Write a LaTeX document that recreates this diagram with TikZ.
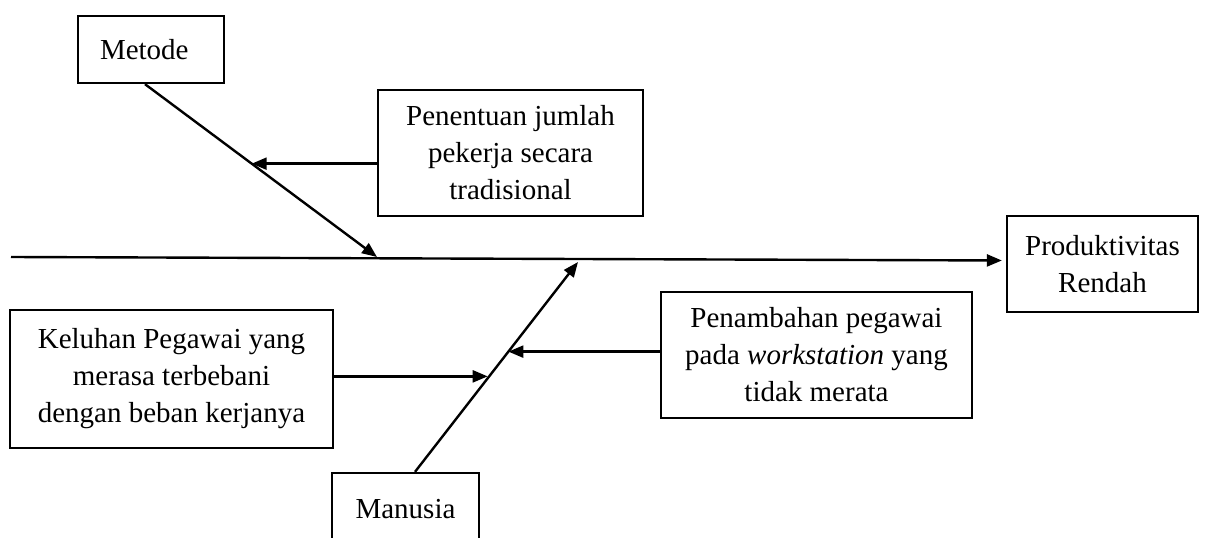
\documentclass[tikz,border=0pt]{standalone}
\usepackage{fontspec}
\setmainfont{Liberation Serif}
\usetikzlibrary{arrows.meta,calc}
\begin{document}
\begin{tikzpicture}[x=1pt,y=-1pt,
  box/.style={draw, line width=2.3pt, inner sep=0pt, align=center, font=\fontsize{29}{37}\selectfont},
  conn/.style={line width=2.4pt, -{Triangle[length=15pt,width=12pt]}},
  plain/.style={line width=2.4pt}]
\useasboundingbox (0,0) rectangle (1210,538);
% nodes
\node[box, minimum width=146, minimum height=67, text width=102, inner xsep=22, align=left] (metode) at (151,49.5) {Metode};
\node[box, minimum width=265, minimum height=126] (penentuan) at (510.5,153) {Penentuan jumlah\\pekerja secara\\tradisional};
\node[box, minimum width=191, minimum height=96] (prod) at (1102.5,264) {Produktivitas\\Rendah};
\node[box, minimum width=311, minimum height=126] (penambahan) at (816.5,355) {Penambahan pegawai\\pada \textit{workstation} yang\\tidak merata};
\node[box, minimum width=323, minimum height=138] (keluhan) at (171.5,379) {Keluhan Pegawai yang\\merasa terbebani\\dengan beban kerjanya};
\node[box, minimum width=147, minimum height=72] (manusia) at (405.5,509) {Manusia};
% coordinates on the bones
\coordinate (s0) at (11,257);
\coordinate (mstart) at ([xshift=-6pt]metode.south);
\coordinate (mend) at (377,257);
\coordinate (a1) at ($(mstart)!0.46!(mend)$);
\coordinate (hstart) at ([xshift=9.5pt]manusia.north);
\coordinate (hend) at (578,262);
\coordinate (a2) at ($(hstart)!0.573!(hend)$);
\coordinate (a3) at ($(hstart)!0.455!(hend)$);
% connectors
\draw[conn, shorten >=4pt] (s0) -- ([yshift=3.5pt]prod.west);
\draw[conn] (mstart) -- (mend);
\draw[conn] (penentuan.west |- a1) -- (a1);
\draw[conn] (hstart) -- (hend);
\draw[conn] (penambahan.west |- a2) -- (a2);
\draw[conn, shorten >=1.5pt] (keluhan.east |- a3) -- (a3);
\end{tikzpicture}
\end{document}
